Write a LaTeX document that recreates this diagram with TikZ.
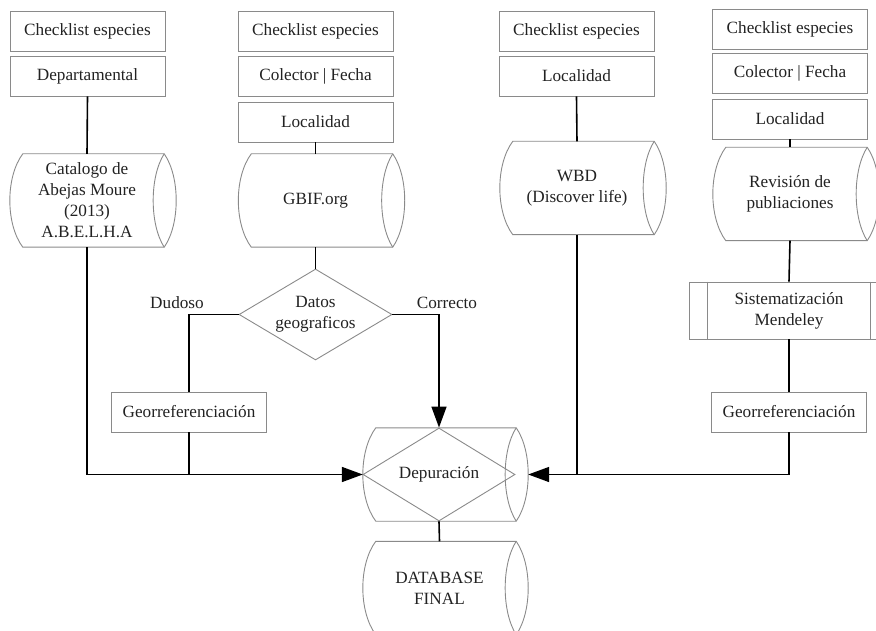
\documentclass[tikz,border=0pt]{standalone}
\usepackage{fontspec}
\setmainfont{Liberation Serif}
\usepackage{tikz}
\usetikzlibrary{arrows.meta,calc,shapes.geometric}
\definecolor{bordeGris}{HTML}{8A8A8A}
\definecolor{textoGris}{HTML}{222222}

% forma de datos almacenados alrededor de un nodo
\newcommand{\almacen}[1]{%
\draw[borde] ([xshift=13pt]#1.north west) -- (#1.north east)
  .. controls ([xshift=16pt,yshift=-23pt]#1.north east) and ([xshift=16pt,yshift=23pt]#1.south east) .. (#1.south east)
  -- ([xshift=13pt]#1.south west)
  .. controls ([xshift=-4.3pt,yshift=23pt]#1.south west) and ([xshift=-4.3pt,yshift=-23pt]#1.north west) .. cycle;
\draw[borde] (#1.north east)
  .. controls ([xshift=-14.7pt,yshift=-23pt]#1.north east) and ([xshift=-14.7pt,yshift=23pt]#1.south east) .. (#1.south east);
\coordinate (#1-borde) at ([xshift=12pt]#1.east);
}

\begin{document}
\begin{tikzpicture}[x=1pt,y=-1pt,
  font=\fontsize{17.2}{21}\selectfont,text=textoGris,
  borde/.style={draw=bordeGris,line width=0.9pt},
  caja/.style={borde,minimum width=155pt,minimum height=40pt,inner sep=0pt,align=center},
  alm/.style={minimum width=154pt,minimum height=93pt,inner sep=0pt,align=center},
  rombo/.style={diamond,borde,aspect=1.68,minimum width=153pt,minimum height=91pt,inner sep=0pt,align=center},
  linea/.style={line width=1.6pt},
  flecha/.style={line width=1.6pt,-{Triangle[length=21pt,width=15pt]}}]
\useasboundingbox (0,0) rectangle (876,631);
% columna 1
\node[caja] (chk1) at (87.5,31.5) {Checklist especies};
\node[caja] (dpto) at (87.5,76) {Departamental};
\node[alm] (cat) at (87,200.5) {Catalogo de\\Abejas Moure\\(2013)\\A.B.E.L.H.A};
\node[caja] (geo1) at (189,412) {Georreferenciación};
% columna 2
\node[caja] (chk2) at (315.5,31.5) {Checklist especies};
\node[caja] (col2) at (315.5,76) {Colector | Fecha};
\node[caja] (loc2) at (315.5,122) {Localidad};
\node[alm] (gbif) at (315.5,200.5) {GBIF.org};
\node[rombo] (datos) at (315.5,314.5) {Datos\\geograficos};
% columna 3
\node[caja] (chk3) at (576.5,31.5) {Checklist especies};
\node[caja] (loc3) at (576.5,76) {Localidad};
\node[alm] (wbd) at (577,188) {WBD\\(Discover life)};
% columna 4
\node[caja] (chk4) at (790,29) {Checklist especies};
\node[caja] (col4) at (790,73) {Colector | Fecha};
\node[caja] (loc4) at (790,119) {Localidad};
\node[alm] (rev) at (790,194) {Revisión de\\publiaciones};
\node[caja,minimum width=200pt,minimum height=57pt] (sis) at (789,310.5) {Sistematización\\Mendeley};
\node[caja] (geo4) at (789,412) {Georreferenciación};
% centro
\node[alm,minimum width=153pt] (depalm) at (439.5,474.5) {};
\node[rombo,minimum width=152pt,minimum height=93pt] (depu) at (439,474.5) {Depuración};
\node[alm,minimum width=153pt] (db) at (439.5,588) {DATABASE\\FINAL};

\almacen{cat}
\almacen{gbif}
\almacen{wbd}
\almacen{rev}
\almacen{depalm}
\almacen{db}
\draw[borde] ([xshift=19pt]sis.north west) -- ([xshift=19pt]sis.south west);
\draw[borde] ([xshift=-19pt]sis.north east) -- ([xshift=-19pt]sis.south east);

% conectores
\draw[linea] (dpto.south) -- (cat.north);
\draw[flecha] (cat.south) |- (depalm.west);
\draw[linea] (geo1.south) -- (geo1.south |- depalm.west);
\draw[linea] (loc2.south) -- (gbif.north);
\draw[linea] (gbif.south) -- (datos.north);
\draw[linea] (datos.west) -| (geo1.north);
\draw[flecha] (datos.east) -| (depu.north);
\node (dudoso) at (177,303) {Dudoso};
\node (correcto) at (447,303) {Correcto};
\draw[linea] (loc3.south) -- (wbd.north);
\draw[linea] (wbd.south) -- (wbd.south |- depalm-borde);
\draw[linea] (loc4.south) -- (rev.north);
\draw[linea] (rev.south) -- (sis.north);
\draw[linea] (sis.south) -- (geo4.north);
\draw[flecha] (geo4.south) |- (depalm-borde);
\draw[linea] (depu.south) -- (db.north);
\end{tikzpicture}
\end{document}
